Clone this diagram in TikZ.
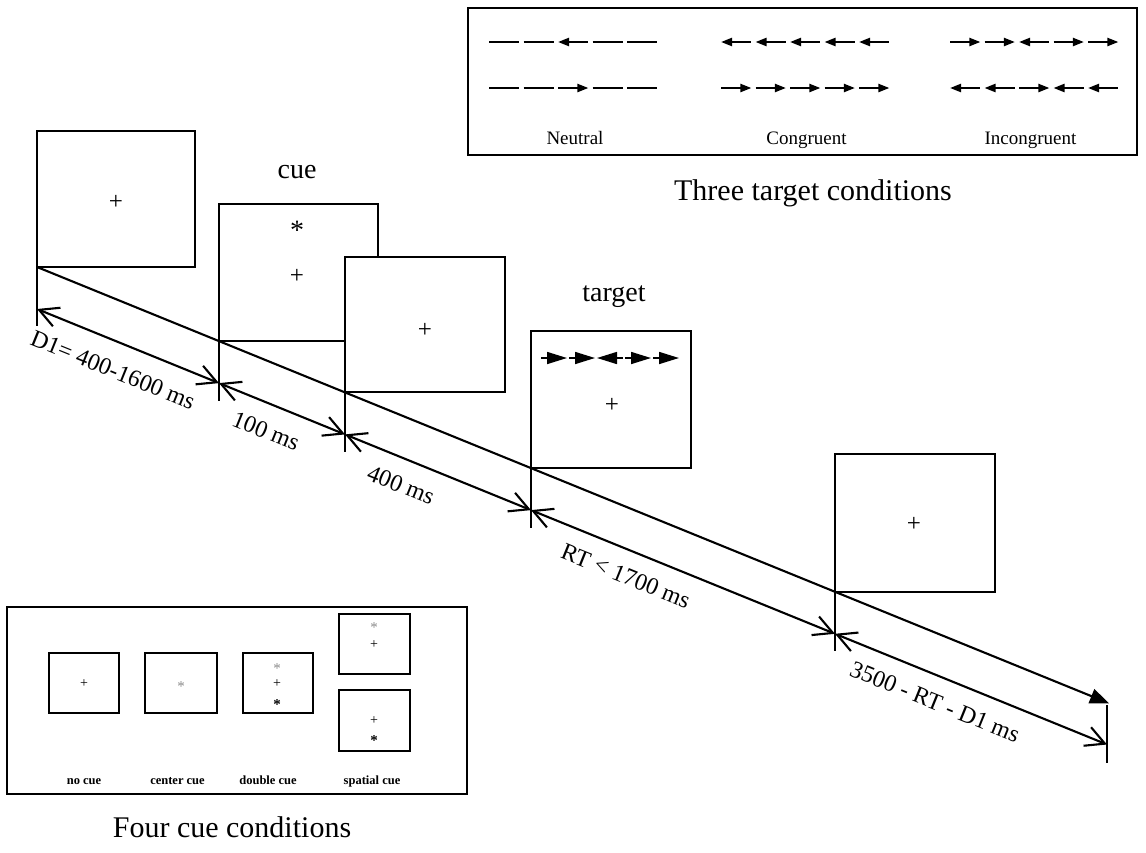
\documentclass[tikz,border=0pt]{standalone}
\usepackage{fontspec}
\setmainfont{Liberation Serif}
\usetikzlibrary{arrows.meta}
\newcommand\flankrow[4]{% style prefix, x0, y, list of types
  \foreach \t [count=\i from 0] in {#4} {
    \draw[#1\t] (#2+34.5*\i,#3) -- (#2+34.5*\i+30.4,#3);
  }}
\newcommand\targetrow[4]{%
  \foreach \t [count=\i from 0] in {#4} {
    \draw[#1\t] (#2+28*\i,#3) -- (#2+28*\i+26,#3);
  }}
\begin{document}
\begin{tikzpicture}[x=1pt,y=-1pt,
  scr/.style={draw, line width=2.1pt, fill=white, inner sep=0pt, outer sep=0pt, anchor=south west},
  frm/.style={draw, line width=1.7pt, inner sep=0pt, outer sep=0pt, anchor=north west},
  mini/.style={draw, line width=1.7pt, fill=white, inner sep=0pt, outer sep=0pt},
  lbl/.style={font=\fontsize{24}{28}\selectfont, rotate=-22.1, inner sep=0pt},
  ttl/.style={font=\fontsize{28}{32}\selectfont, inner sep=0pt},
  big/.style={font=\fontsize{30}{34}\selectfont, inner sep=0pt, anchor=base},
  cond/.style={font=\fontsize{19}{22}\selectfont, inner sep=0pt, anchor=base},
  cuelbl/.style={font=\fontsize{12.5}{14}\selectfont\bfseries, inner sep=0pt, anchor=base},
  plusbig/.style={font=\fontsize{25}{28}\selectfont, inner sep=0pt},
  astbig/.style={font=\fontsize{28}{32}\selectfont, inner sep=0pt, anchor=north},
  plussm/.style={font=\fontsize{14}{16}\selectfont, inner sep=0pt},
  astsm/.style={font=\fontsize{15}{17}\selectfont, inner sep=0pt, anchor=north},
  main/.style={line width=2.1pt},
  tick/.style={line width=2.1pt},
  dimline/.style={line width=2.1pt, {Straight Barb[length=19pt,width=20pt]}-{Straight Barb[length=19pt,width=20pt]}},
  fln/.style={line width=2.2pt},
  fll/.style={line width=2.2pt, {Triangle[length=11pt,width=8pt]}-},
  flr/.style={line width=2.2pt, -{Triangle[length=11pt,width=8pt]}},
  tgl/.style={line width=1.6pt, {Triangle[length=20pt,width=12pt]}-},
  tgr/.style={line width=1.6pt, -{Triangle[length=20pt,width=12pt]}},
]
\useasboundingbox (0,0) rectangle (1146,852);

% timeline coordinates
\coordinate (c1) at (37,267);
\coordinate (c2) at (219,341.1);
\coordinate (c3) at (345,392.4);
\coordinate (c4) at (531,468.1);
\coordinate (c5) at (835,591.8);
\coordinate (cend) at (1109,703.3);
\coordinate (d1) at (37,309);
\coordinate (d2) at (219,383.1);
\coordinate (d3) at (345,434.4);
\coordinate (d4) at (531,510.1);
\coordinate (d5) at (835,633.8);
\coordinate (d6) at (1107,744.5);
\coordinate (e1) at (37,326);
\coordinate (e2) at (219,401);
\coordinate (e3) at (345,452);
\coordinate (e4) at (531,528);
\coordinate (e5) at (835,651);
\coordinate (f6) at (1107,705);
\coordinate (e6) at (1107,763);

% main timeline
\draw[main, -{Triangle[length=19pt,width=15pt]}] (c1) -- (c2) -- (c3) -- (c4) -- (c5) -- (cend);
% ticks
\draw[tick] (c1) -- (e1);
\draw[tick] (c2) -- (e2);
\draw[tick] (c3) -- (e3);
\draw[tick] (c4) -- (e4);
\draw[tick] (c5) -- (e5);
\draw[tick] (f6) -- (e6);
% durations
\draw[dimline] (d1) -- (d2);
\draw[dimline] (d2) -- (d3);
\draw[dimline] (d3) -- (d4);
\draw[dimline] (d4) -- (d5);
\draw[dimline] (d5) -- (d6);
\node[lbl] (l1) at (113,370) {D1= 400-1600 ms};
\node[lbl] (l2) at (266,431) {100 ms};
\node[lbl] (l3) at (401,485) {400 ms};
\node[lbl] (l4) at (626,576) {RT < 1700 ms};
\node[lbl] (l5) at (935,702) {3500 - RT - D1 ms};

% screens
\node[scr, minimum width=158pt, minimum height=136pt] (s1) at (c1) {};
\node[plusbig] (p1) at (116,202) {+};
\node[scr, minimum width=159pt, minimum height=137pt] (s2) at (c2) {};
\node[astbig] (a2) at (297,221) {*};
\node[plusbig] (p2) at (297,276) {+};
\node[scr, minimum width=160pt, minimum height=135.4pt] (s3) at (c3) {};
\node[plusbig] (p3) at (425,330) {+};
\node[scr, minimum width=160pt, minimum height=137pt] (s4) at (c4) {};
\targetrow{tg}{541}{358}{r,r,l,r,r}
\node[plusbig] (p4) at (612,405) {+};
\node[scr, minimum width=160pt, minimum height=138pt] (s5) at (c5) {};
\node[plusbig] (p5) at (914,524) {+};

\node[ttl] (cue) at (297,172) {cue};
\node[ttl] (target) at (614,297) {target};

% three target conditions
\node[frm, minimum width=669pt, minimum height=147pt] (tbox) at (468,8) {};
\flankrow{fl}{489}{42}{n,n,l,n,n}
\flankrow{fl}{489}{88}{n,n,r,n,n}
\flankrow{fl}{721}{42}{l,l,l,l,l}
\flankrow{fl}{721}{88}{r,r,r,r,r}
\flankrow{fl}{950}{42}{r,r,l,r,r}
\flankrow{fl}{950}{88}{l,l,r,l,l}
\node[cond] (neutral) at (575,144) {Neutral};
\node[cond] (congruent) at (806.5,144) {Congruent};
\node[cond] (incongruent) at (1030.5,144) {Incongruent};
\node[big] (ttitle) at (813,200) {Three target conditions};

% four cue conditions
\node[frm, minimum width=460pt, minimum height=187pt] (cbox) at (7,607) {};
\node[mini, minimum width=70pt, minimum height=60pt] (m1) at (84,683) {};
\node[plussm] (mp1) at (84,684) {+};
\node[mini, minimum width=72pt, minimum height=60pt] (m2) at (181,683) {};
\node[astsm, text=black!45] (ma2) at (181,681) {*};
\node[mini, minimum width=70pt, minimum height=60pt] (m3) at (278,683) {};
\draw[line width=2.5pt] (258,653) -- (293,653);
\node[astsm, text=black!45] (ma3) at (277,663) {*};
\node[plussm] (mp3) at (277,684) {+};
\node[astsm] (mb3) at (277,699) {\bfseries *};
\node[mini, minimum width=71pt, minimum height=60pt] (m4) at (374.5,644) {};
\draw[line width=2.5pt] (354,614) -- (388,614);
\node[astsm, text=black!45] (ma4) at (374,622) {*};
\node[plussm] (mp4) at (374,645) {+};
\node[mini, minimum width=71pt, minimum height=61pt] (m5) at (374.5,720.5) {};
\node[plussm] (mp5) at (374,721) {+};
\node[astsm] (mb5) at (374,735) {\bfseries *};
\node[cuelbl] (n1) at (84,784) {no cue};
\node[cuelbl] (n2) at (177.5,784) {center cue};
\node[cuelbl] (n3) at (268,784) {double cue};
\node[cuelbl] (n4) at (372,784) {spatial cue};
\node[big] (ctitle) at (232,837) {Four cue conditions};
\end{tikzpicture}
\end{document}
